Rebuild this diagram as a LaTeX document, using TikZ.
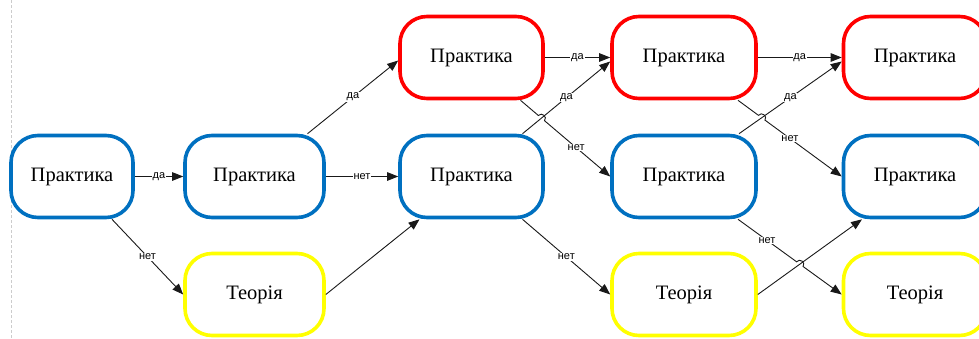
\documentclass[tikz,border=0pt]{standalone}
\usepackage{fontspec}
\setmainfont{Liberation Serif}
\newfontfamily\lblfont{Liberation Sans}
\usetikzlibrary{arrows.meta,calc,intersections}
\definecolor{bxblue}{HTML}{0070C0}
\definecolor{bxred}{HTML}{FF0000}
\definecolor{bxyellow}{HTML}{FFFF00}
\begin{document}
\begin{tikzpicture}[x=1pt,y=-1pt,
  box/.style={draw, rectangle, rounded corners=27pt, line width=3.6pt, fill=white,
    minimum height=82pt, inner sep=0pt, font=\fontsize{20.5}{24}\selectfont},
  pbox/.style={box, draw=bxblue},
  rbox/.style={box, draw=bxred},
  ybox/.style={box, draw=bxyellow},
  conn/.style={draw=black!90, line width=0.9pt, -{Triangle[length=11pt,width=8.5pt]}},
  lbl/.style={fill=white, inner sep=0.8pt, font=\lblfont\fontsize{11}{12}\selectfont, text=black}]
\useasboundingbox (0,0) rectangle (979,338);
\clip (0,0) rectangle (979,338);
\draw[gray!40, line width=0.6pt, dash pattern=on 3pt off 2pt] (11.5,0) -- (11.5,338);

% nodes
\node[pbox, minimum width=122pt] (p1) at (72,176.5) {Практика};
\node[pbox, minimum width=139pt] (p2) at (254.5,176.5) {Практика};
\node[ybox, minimum width=139pt] (t2) at (254.5,294.5) {Теорія};
\node[rbox, minimum width=143pt] (r3) at (471.5,57.5) {Практика};
\node[pbox, minimum width=143pt] (p3) at (471.5,176.5) {Практика};
\node[rbox, minimum width=144pt] (r4) at (684,57.5) {Практика};
\node[pbox, minimum width=144pt] (p4) at (684,176.5) {Практика};
\node[ybox, minimum width=144pt] (t4) at (684,294.5) {Теорія};
\node[rbox, minimum width=143pt] (r5) at (915,57.5) {Практика};
\node[pbox, minimum width=143pt] (p5) at (915,176.5) {Практика};
\node[ybox, minimum width=143pt] (t5) at (915,294.5) {Теорія};

% simple connectors
\draw[conn] (p1.east) -- node[lbl]{да} (p2.west);
\draw[conn] ($(p1.south)+(40,0)$) -- node[lbl]{нет} (t2.west);
\draw[conn] ($(p2.north)+(53,0)$) -- node[lbl]{да} ($(r3.west)+(0,3)$);
\draw[conn] (p2.east) -- node[lbl]{нет} (p3.west);
\draw[conn] (t2.east) -- ($(p3.south)+(-52,0)$);
\draw[conn] (r3.east) -- node[lbl]{да} (r4.west);
\draw[conn, name path=e8p] ($(p3.north)+(51,0)$) -- ($(r4.west)+(0,4)$);
\draw[conn] ($(p3.south)+(51,0)$) -- node[lbl]{нет} (t4.west);
\draw[conn] (r4.east) -- node[lbl]{да} (r5.west);
\draw[conn, name path=e12p] ($(p4.north)+(55,0)$) -- ($(r5.west)+(0,4)$);
\draw[conn, name path=e14p] (t4.east) -- ($(p5.south)+(-53,0)$);

% connectors with line jumps
\coordinate (e7a) at ($(r3.south)+(49,0)$);
\path[name path=e7p] (e7a) -- (p4.west);
\path[name intersections={of=e7p and e8p, by=x7}];
\coordinate (x7a) at ($(x7)!4pt!(e7a)$);
\coordinate (x7b) at ($(x7)!4pt!(p4.west)$);
\draw[conn] (e7a) -- (x7a) .. controls ($(x7a)!5pt!90:(x7)$) and ($(x7b)!5pt!-90:(x7)$) .. (x7b) -- (p4.west);

\coordinate (e11a) at ($(r4.south)+(54,0)$);
\path[name path=e11p] (e11a) -- (p5.west);
\path[name intersections={of=e11p and e12p, by=x11}];
\coordinate (x11a) at ($(x11)!4pt!(e11a)$);
\coordinate (x11b) at ($(x11)!4pt!(p5.west)$);
\draw[conn] (e11a) -- (x11a) .. controls ($(x11a)!5pt!90:(x11)$) and ($(x11b)!5pt!-90:(x11)$) .. (x11b) -- (p5.west);

\coordinate (e13a) at ($(p4.south)+(54,0)$);
\path[name path=e13p] (e13a) -- (t5.west);
\path[name intersections={of=e13p and e14p, by=x13}];
\coordinate (x13a) at ($(x13)!4pt!(e13a)$);
\coordinate (x13b) at ($(x13)!4pt!(t5.west)$);
\draw[conn] (e13a) -- (x13a) .. controls ($(x13a)!5pt!90:(x13)$) and ($(x13b)!5pt!-90:(x13)$) .. (x13b) -- (t5.west);

% labels on top
\path (e7a) -- node[lbl, pos=0.62]{нет} (p4.west);
\path ($(p3.north)+(51,0)$) -- node[lbl]{да} ($(r4.west)+(0,4)$);
\path (e11a) -- node[lbl]{нет} (p5.west);
\path ($(p4.north)+(55,0)$) -- node[lbl]{да} ($(r5.west)+(0,4)$);
\path (e13a) -- node[lbl, pos=0.28]{нет} (t5.west);
\end{tikzpicture}
\end{document}
